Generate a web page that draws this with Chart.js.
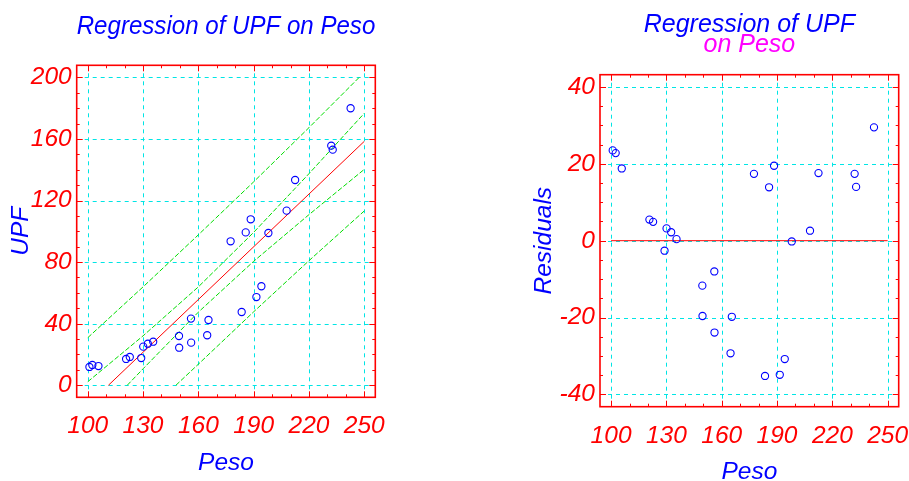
<!DOCTYPE html>
<html>
<head>
<meta charset="utf-8">
<script src="https://cdn.jsdelivr.net/npm/chart.js@4.4.1/dist/chart.umd.min.js"></script>
<style>
  html, body { margin: 0; padding: 0; background: #fff; }
  #wrap { position: relative; width: 909px; height: 481px; }
  canvas { position: absolute; top: 0; }
  #fitChart { left: 0; }
  #resChart { left: 455px; }
</style>
</head>
<body>
<div id="wrap">
  <canvas id="fitChart" width="455" height="481"></canvas>
  <canvas id="resChart" width="454" height="481"></canvas>
</div>
<script>
// observations
const peso = [100.9, 102.5, 105.8, 120.8, 122.8, 129.0, 130.1, 132.6, 135.5, 149.5, 149.6, 156.0, 156.1, 164.8,
              165.5, 177.5, 183.5, 185.7, 188.4, 191.5, 194.2, 198.0, 207.9, 212.5, 232.1, 232.9, 242.6];
const upf = [11.9, 13.2, 12.5, 17.1, 18.4, 17.7, 25.1, 27.0, 28.3, 32.0, 24.4, 43.3, 27.7, 32.5,
             42.4, 93.5, 47.6, 99.3, 107.8, 57.3, 64.3, 98.9, 113.4, 133.3, 155.6, 153.0, 179.9];
const residuals = [23.5, 22.8, 18.8, 5.5, 4.9, -2.6, 3.2, 2.2, 0.4, -11.7, -19.6, -8.0, -23.9, -29.3,
                   -19.8, 17.4, -35.2, 13.9, 19.5, -34.9, -30.8, -0.2, 2.6, 17.6, 17.4, 14.0, 29.5];

// fitted line and bands (clipped to 0..200)
const fitX = [111.2, 250];
const fitY = [0, 158.4];
const upperPredX = [100, 130, 160, 190, 220, 247.3];
const upperPredY = [30.9, 63.9, 97.7, 132.1, 167.3, 200];
const upperConfX = [100, 130, 160, 190, 220, 250];
const upperConfY = [2.3, 32.1, 63.9, 99.3, 137.4, 176.6];
const lowerConfX = [121.4, 130, 160, 190, 220, 250];
const lowerConfY = [0, 10.7, 47.5, 80.5, 110.8, 140.2];
const lowerPredX = [147.8, 160, 190, 220, 250];
const lowerPredY = [0, 13.7, 47.7, 80.9, 113.2];
const zeroX = [100, 250];
const zeroY = [0, 0];

// ticks
const xTicks = [100, 130, 160, 190, 220, 250];
const upfTicks = [0, 40, 80, 120, 160, 200];
const resTicks = [-40, -20, 0, 20, 40];

const FONT = "'Liberation Sans', Arial, sans-serif";
const RED = '#ff0000', BLUE = '#0000ff', CYAN = '#00e5e5', GREEN = '#00dd00', MAGENTA = '#ff00ff';

const pts = (xs, ys) => xs.map((x, i) => ({ x, y: ys[i] }));
const italic = (size, lh) => ({ family: FONT, size, style: 'italic', weight: 'normal', lineHeight: lh || 1.2 });

/* dashed cyan grid, red frame with inward ticks on all four sides */
const frameTicks = {
  id: 'frameTicks',
  beforeDatasetsDraw(chart, args, opt) {
    const { ctx, chartArea: a, scales: { x, y } } = chart;
    ctx.save();
    ctx.strokeStyle = CYAN;
    ctx.lineWidth = 1;
    ctx.setLineDash([4, 4]);
    ctx.beginPath();
    xTicks.forEach(v => {
      const px = Math.round(x.getPixelForValue(v)) + 0.5;
      ctx.moveTo(px, a.top); ctx.lineTo(px, a.bottom);
    });
    opt.yMajor.forEach(v => {
      const py = Math.round(y.getPixelForValue(v)) + 0.5;
      ctx.moveTo(a.left, py); ctx.lineTo(a.right, py);
    });
    ctx.stroke();
    ctx.restore();
  },
  afterDraw(chart, args, opt) {
    const { ctx, chartArea: a, scales: { x, y } } = chart;
    ctx.save();
    ctx.strokeStyle = RED;
    ctx.lineWidth = 1;
    ctx.beginPath();
    for (let v = opt.xFrom; v <= opt.xTo; v += opt.xStep) {
      const px = Math.round(x.getPixelForValue(v)) + 0.5;
      const len = xTicks.includes(v) ? 6 : 3;
      ctx.moveTo(px, a.top); ctx.lineTo(px, a.top + len);
      ctx.moveTo(px, a.bottom); ctx.lineTo(px, a.bottom - len);
    }
    for (let v = opt.yFrom; v <= opt.yTo; v += opt.yStep) {
      const py = Math.round(y.getPixelForValue(v)) + 0.5;
      const len = opt.yMajor.includes(v) ? 6 : 3;
      ctx.moveTo(a.left, py); ctx.lineTo(a.left + len, py);
      ctx.moveTo(a.right, py); ctx.lineTo(a.right - len, py);
    }
    ctx.stroke();
    ctx.lineWidth = 1.6;
    ctx.strokeRect(a.left, a.top, a.right - a.left, a.bottom - a.top);
    ctx.restore();
  }
};

function xScale(height, labelPad, titlePad) {
  return {
    type: 'linear', min: 94, max: 256,
    afterBuildTicks: s => { s.ticks = xTicks.map(value => ({ value })); },
    afterFit: s => { s.height = height; s.paddingLeft = 0; s.paddingRight = 0; },
    grid: { display: false, drawTicks: false },
    border: { display: false },
    ticks: { color: RED, font: italic(24.5), padding: labelPad, autoSkip: false, maxRotation: 0, callback: v => String(v) },
    title: { display: true, text: 'Peso', color: BLUE, font: italic(24.5), padding: { top: 0, bottom: titlePad } }
  };
}

function yScale(min, max, ticks, width, text, titlePad) {
  return {
    type: 'linear', min, max,
    afterBuildTicks: s => { s.ticks = ticks.map(value => ({ value })); },
    afterFit: s => { s.width = width; s.paddingTop = 0; s.paddingBottom = 0; },
    grid: { display: false, drawTicks: false },
    border: { display: false },
    ticks: { color: RED, font: italic(24.5), padding: 5, autoSkip: false, callback: v => String(v) },
    title: { display: true, text, color: BLUE, font: italic(24.5), padding: { top: titlePad, bottom: 0 } }
  };
}

const lineSet = (xs, ys, color, dash) => ({
  data: pts(xs, ys), showLine: true, borderColor: color, borderWidth: 1,
  borderDash: dash || [], pointRadius: 0, fill: false
});
const pointSet = ys => ({
  data: pts(peso, ys), showLine: false, pointRadius: 3.6, pointBorderWidth: 1.1,
  borderColor: BLUE, backgroundColor: 'rgba(0,0,0,0)', pointBackgroundColor: 'rgba(0,0,0,0)'
});

Chart.defaults.font.family = FONT;

new Chart(document.getElementById('fitChart'), {
  type: 'scatter',
  data: {
    datasets: [
      pointSet(upf),
      lineSet(fitX, fitY, RED),
      lineSet(upperPredX, upperPredY, GREEN, [5, 2]),
      lineSet(upperConfX, upperConfY, GREEN, [5, 2]),
      lineSet(lowerConfX, lowerConfY, GREEN, [5, 2]),
      lineSet(lowerPredX, lowerPredY, GREEN, [5, 2])
    ]
  },
  options: {
    responsive: false, animation: false, devicePixelRatio: 1, events: [],
    layout: { padding: { left: 0, right: 79.7, top: 0, bottom: 0 } },
    plugins: {
      legend: { display: false },
      tooltip: { enabled: false },
      title: {
        display: true, fullSize: false, text: 'Regression of UPF on Peso', color: BLUE,
        font: italic(25), padding: { top: 12.5, bottom: 22.8 }
      },
      frameTicks: { xFrom: 100, xTo: 250, xStep: 10, yFrom: 0, yTo: 200, yStep: 10, yMajor: upfTicks }
    },
    scales: {
      x: xScale(83.7, 14, 3),
      y: yScale(-7.8, 207.8, upfTicks, 76.7, 'UPF', 6.5)
    }
  },
  plugins: [frameTicks]
});

new Chart(document.getElementById('resChart'), {
  type: 'scatter',
  data: {
    datasets: [
      pointSet(residuals),
      lineSet(zeroX, zeroY, RED)
    ]
  },
  options: {
    responsive: false, animation: false, devicePixelRatio: 1, events: [],
    layout: { padding: { left: 0, right: 10.3, top: 0, bottom: 0 } },
    plugins: {
      legend: { display: false },
      tooltip: { enabled: false },
      title: {
        display: true, fullSize: false, text: 'Regression of UPF', color: BLUE,
        font: italic(25, 0.8), padding: { top: 15, bottom: 0 }
      },
      subtitle: {
        display: true, fullSize: false, text: 'on Peso', color: MAGENTA,
        font: italic(25, 0.8), padding: { top: 0, bottom: 19.7 }
      },
      frameTicks: { xFrom: 100, xTo: 250, xStep: 10, yFrom: -40, yTo: 40, yStep: 5, yMajor: resTicks }
    },
    scales: {
      x: xScale(74.3, 14.8, -6),
      y: yScale(-43.2, 43.2, resTicks, 145, 'Residuals', 74.3)
    }
  },
  plugins: [frameTicks]
});
</script>
</body>
</html>
